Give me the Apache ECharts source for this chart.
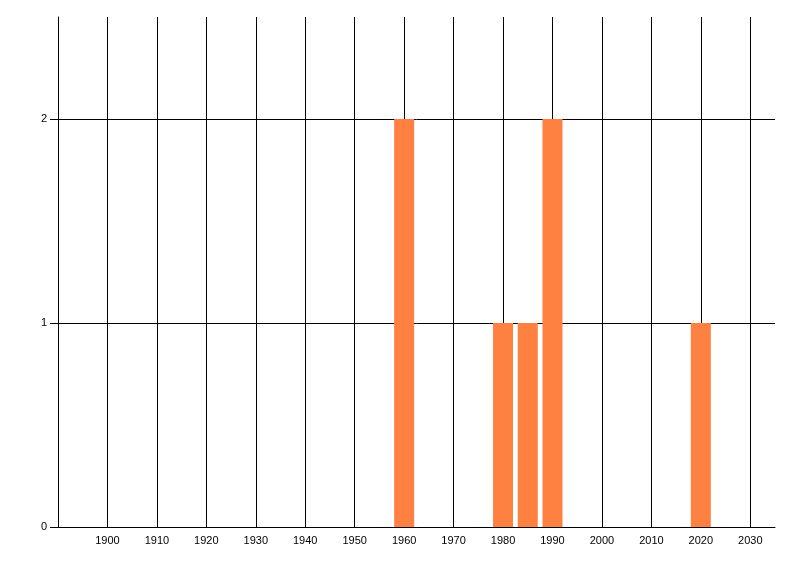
<!DOCTYPE html>
<html><head><meta charset="utf-8">
<script src="https://cdn.jsdelivr.net/npm/echarts@6/dist/echarts.min.js"></script>
<style>html,body{margin:0;padding:0;background:#fff}#c{width:800px;height:576px}</style>
</head><body><div id="c"></div>
<script>
const years = [1960, 1980, 1985, 1990, 2020];
const counts = [2, 1, 1, 2, 1];
const xTickLabels = [1900, 1910, 1920, 1930, 1940, 1950, 1960, 1970, 1980, 1990, 2000, 2010, 2020, 2030];
const yTickLabels = [0, 1, 2];

const chart = echarts.init(document.getElementById('c'), null, {renderer: 'canvas'});
chart.setOption({
  animation: false,
  grid: {left: 58, right: 25, top: 17, bottom: 49, containLabel: false},
  xAxis: {
    type: 'value', min: 1890, max: 2035, interval: 10,
    axisLine: {show: true, onZero: false, lineStyle: {color: '#000', width: 1}},
    axisTick: {show: false},
    axisLabel: {
      customValues: xTickLabels,
      color: '#000', fontFamily: 'Liberation Sans', fontSize: 11, margin: 8,
      formatter: v => String(v)
    },
    splitLine: {show: true, showMaxLine: false, lineStyle: {color: '#000', width: 1}}
  },
  yAxis: {
    type: 'value', min: 0, max: 2.5, interval: 1,
    axisLine: {show: true, lineStyle: {color: '#000', width: 1}},
    axisTick: {show: true, length: 8, customValues: yTickLabels, lineStyle: {color: '#000'}},
    axisLabel: {
      customValues: yTickLabels,
      color: '#000', fontFamily: 'Liberation Sans', fontSize: 11, margin: 11
    },
    splitLine: {show: true, lineStyle: {color: '#000', width: 1}}
  },
  series: [{
    type: 'bar',
    data: years.map((y, i) => [y, counts[i]]),
    barWidth: 20,
    itemStyle: {color: '#ff8142'},
    z: 3
  }]
});
</script></body></html>
